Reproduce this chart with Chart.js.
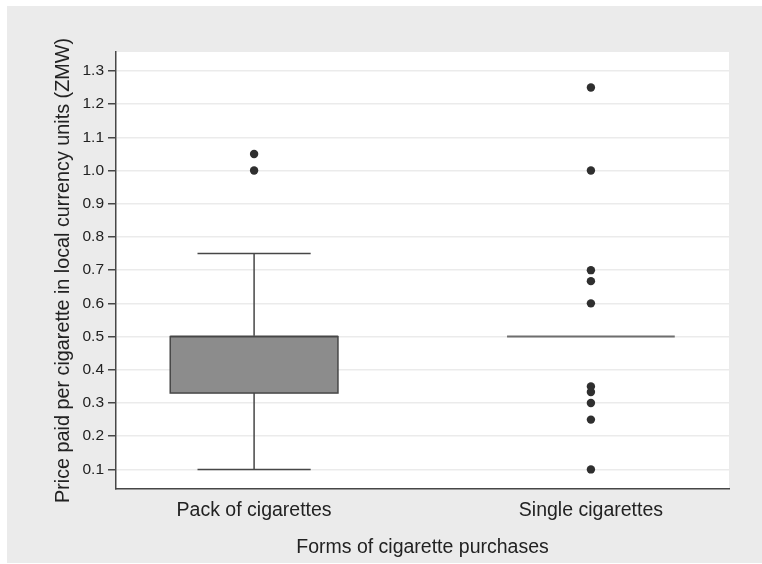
<!DOCTYPE html>
<html>
<head>
<meta charset="utf-8">
<script src="https://cdn.jsdelivr.net/npm/chart.js@4.4.1/dist/chart.umd.min.js"></script>
<style>
  html, body { margin: 0; padding: 0; background: #ffffff; }
  #wrap { width: 762px; height: 564px; position: relative; }
</style>
</head>
<body>
<div id="wrap"><canvas id="c" width="762" height="564"></canvas></div>
<script>
// Purchase forms on the x axis
const categories = ['Pack of cigarettes', 'Single cigarettes'];

// Box-plot summaries per purchase form (ZMW per cigarette)
const whiskerLow  = [0.10, 0.50];
const q1          = [0.33, 0.50];
const median      = [0.50, 0.50];
const q3          = [0.50, 0.50];
const whiskerHigh = [0.75, 0.50];

// Values outside the whiskers
const outliersPack   = [1.00, 1.05];
const outliersSingle = [0.10, 0.25, 0.30, 0.333, 0.35, 0.60, 0.667, 0.70, 1.00, 1.25];

// Y tick values
const yTicks = [0.1, 0.2, 0.3, 0.4, 0.5, 0.6, 0.7, 0.8, 0.9, 1.0, 1.1, 1.2, 1.3];

const FONT = '"Liberation Sans", Arial, Helvetica, sans-serif';
const TEXT = '#222222';

// Gray page panel and white plot region
const panelPlugin = {
  id: 'panel',
  beforeDraw(chart) {
    const { ctx, chartArea: a } = chart;
    ctx.save();
    ctx.fillStyle = '#ebebeb';
    ctx.fillRect(7, 6, 755, 557);
    ctx.fillStyle = '#ffffff';
    ctx.fillRect(a.left, a.top, a.right - a.left, a.bottom - a.top);
    ctx.restore();
  }
};

// Boxes, whiskers and medians, placed through the chart's scales
const boxPlugin = {
  id: 'boxes',
  beforeDatasetsDraw(chart) {
    const { ctx, scales: { x, y } } = chart;
    const boxHalf = 0.249, capHalf = 0.168;
    ctx.save();
    categories.forEach((_, i) => {
      const cx = x.getPixelForValue(i);
      const bl = x.getPixelForValue(i - boxHalf), br = x.getPixelForValue(i + boxHalf);
      const cl = x.getPixelForValue(i - capHalf), cr = x.getPixelForValue(i + capHalf);
      const yLo = y.getPixelForValue(whiskerLow[i]);
      const yHi = y.getPixelForValue(whiskerHigh[i]);
      const yQ1 = y.getPixelForValue(q1[i]);
      const yQ3 = y.getPixelForValue(q3[i]);
      const yMed = y.getPixelForValue(median[i]);
      ctx.strokeStyle = '#474747';
      ctx.lineWidth = 1.5;
      // whiskers and caps
      if (whiskerHigh[i] > q3[i]) {
        ctx.beginPath();
        ctx.moveTo(cx, yQ3); ctx.lineTo(cx, yHi);
        ctx.moveTo(cl, yHi); ctx.lineTo(cr, yHi);
        ctx.stroke();
      }
      if (whiskerLow[i] < q1[i]) {
        ctx.beginPath();
        ctx.moveTo(cx, yQ1); ctx.lineTo(cx, yLo);
        ctx.moveTo(cl, yLo); ctx.lineTo(cr, yLo);
        ctx.stroke();
      }
      const hasBox = q3[i] > q1[i];
      if (hasBox) {
        ctx.fillStyle = '#8c8c8c';
        ctx.fillRect(bl, yQ3, br - bl, yQ1 - yQ3);
      }
      // median
      ctx.strokeStyle = '#6e6e6e';
      ctx.lineWidth = 2;
      ctx.beginPath();
      ctx.moveTo(bl, yMed); ctx.lineTo(br, yMed);
      ctx.stroke();
      if (hasBox) {
        ctx.strokeStyle = '#474747';
        ctx.lineWidth = 1.5;
        ctx.strokeRect(bl, yQ3, br - bl, yQ1 - yQ3);
      }
    });
    ctx.restore();
  }
};

const toPoints = (vals, i) => vals.map(v => ({ x: i, y: v }));

new Chart(document.getElementById('c'), {
  type: 'scatter',
  data: {
    datasets: [
      { label: categories[0], data: toPoints(outliersPack, 0) },
      { label: categories[1], data: toPoints(outliersSingle, 1) }
    ]
  },
  options: {
    responsive: false,
    animation: false,
    devicePixelRatio: 1,
    layout: { padding: { left: 7, top: 52, right: 33, bottom: 0 } },
    elements: {
      point: { radius: 4.2, backgroundColor: '#2f2f2f', borderColor: '#2f2f2f', borderWidth: 0 }
    },
    plugins: {
      legend: { display: false },
      tooltip: { enabled: false }
    },
    scales: {
      x: {
        type: 'linear',
        min: -0.41,
        max: 1.41,
        afterBuildTicks(scale) { scale.ticks = categories.map((_, i) => ({ value: i })); },
        afterFit(scale) { scale.height = 75; },
        grid: { display: false },
        border: { display: true, color: '#474747', width: 1.5 },
        ticks: {
          autoSkip: false,
          maxRotation: 0,
          padding: 2,
          color: TEXT,
          font: { family: FONT, size: 19.5 },
          callback: (v) => categories[v] ?? ''
        },
        title: {
          display: true,
          text: 'Forms of cigarette purchases',
          color: TEXT,
          font: { family: FONT, size: 19.5 },
          padding: { top: 0, bottom: 5 }
        }
      },
      y: {
        type: 'linear',
        min: 0.041,
        max: 1.357,
        afterBuildTicks(scale) { scale.ticks = yTicks.map(v => ({ value: v })); },
        afterFit(scale) { scale.width = 109; },
        grid: { color: '#ebebeb', lineWidth: 1.5, tickColor: '#474747', tickLength: 8 },
        border: { display: true, color: '#474747', width: 1.5 },
        ticks: {
          autoSkip: false,
          padding: 4,
          color: TEXT,
          font: { family: FONT, size: 15.5 },
          callback: (v) => Number(v).toFixed(1)
        },
        title: {
          display: true,
          text: 'Price paid per cigarette in local currency units (ZMW)',
          color: TEXT,
          font: { family: FONT, size: 19.8 },
          padding: { top: 45, bottom: 0 }
        }
      }
    }
  },
  plugins: [panelPlugin, boxPlugin]
});
</script>
</body>
</html>
